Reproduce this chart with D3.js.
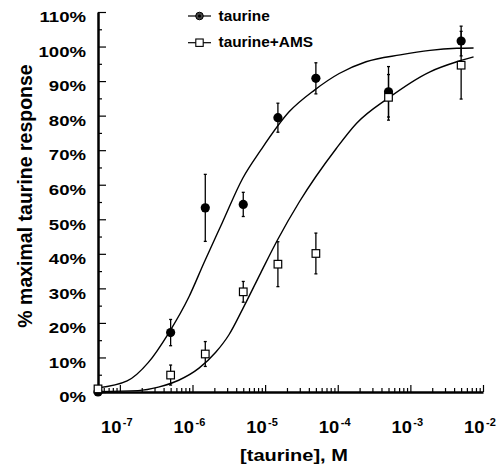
<!DOCTYPE html>
<html><head><meta charset="utf-8">
<script src="https://cdn.jsdelivr.net/npm/d3@7"></script>
<style>
body{margin:0;background:#fff}
text{font-family:"Liberation Sans",Arial,Helvetica,sans-serif;font-weight:bold;fill:#000}
</style>
</head><body><svg id="c" width="503" height="465"></svg>
<script>
// ---- data ----
const conc        = [5e-8, 5e-7, 1.5e-6, 5e-6, 1.5e-5, 5e-5, 5e-4, 5e-3];
const taurine     = [0, 17.2, 53.3, 54.3, 79.4, 90.8, 86.9, 101.6];
const taurineErr  = [0, 3.8, 9.7, 3.5, 4.2, 4.5, 7.3, 4.3];
const ams         = [0.9, 4.9, 11.0, 29.0, 37.0, 40.1, 85.3, 94.6];
const amsErr      = [0, 2.9, 3.6, 3.0, 6.5, 5.9, 6.6, 9.8];

// fitted curves (log10 concentration, % response)
const taurineFitLog = [-7.30,-6.90,-6.61,-6.33,-6.05,-5.84,-5.59,-5.31,-5.06,-4.67,-4.32,-3.98,-3.61,-3.14,-2.73,-2.36,-2.13];
const taurineFit    = [1.2, 3.2, 8.5, 17, 27.5, 37.5, 49, 61.8, 70, 81.1, 87.4, 92.2, 95.6, 97.6, 98.9, 99.5, 99.6];
const amsFitLog     = [-7.30,-6.75,-6.47,-6.19,-5.91,-5.68,-5.50,-5.31,-5.06,-4.83,-4.53,-4.02,-3.74,-3.31,-2.73,-2.36,-2.13];
const amsFit        = [0.1, 0.4, 1.4, 3.4, 6.9, 11.5, 16.5, 24, 34.5, 44, 55, 70.5, 77.8, 85, 92.7, 95.6, 97];

const yTicks     = [0,10,20,30,40,50,60,70,80,90,100,110];
const yMinor     = [5,15,25,35,45,55,65,75,85,95,105];
const xTickExps  = [-7,-6,-5,-4,-3,-2];
const seriesNames = ["taurine", "taurine+AMS"];
const xTitle = "[taurine], M";
const yTitle = "% maximal taurine response";

// ---- drawing ----
const svg = d3.select("#c");
const x = d3.scaleLog().domain([5e-8, 1e-2]).range([98, 483]);
const y = d3.scaleLinear().domain([0, 110]).range([392, 12]);

function stretch(sel, k){
  sel.each(function(){
    const w = this.getComputedTextLength();
    d3.select(this).attr("textLength", w*k).attr("lengthAdjust","spacingAndGlyphs");
  });
}

// minor x ticks
const xMinor = [];
for (let e = -8; e <= -3; e++) for (let k = 2; k <= 9; k++) {
  const v = k * Math.pow(10, e);
  if (v >= 5e-8 && v <= 1e-2) xMinor.push(v);
}
const xMajor = xTickExps.map(e => Math.pow(10, e));

const gx = svg.append("g").attr("transform", "translate(0,392)");
gx.call(d3.axisBottom(x).tickValues(xMinor).tickSizeInner(-4).tickSizeOuter(0).tickFormat(""));
gx.append("g").call(d3.axisBottom(x).tickValues(xMajor).tickSizeInner(-7).tickSizeOuter(0).tickFormat(""))
  .select(".domain").remove();
gx.select(".domain").attr("stroke-width", 2.5);
gx.selectAll(".tick line").attr("stroke-width", 1.2);

const gy = svg.append("g").attr("transform", "translate(98,0)");
gy.call(d3.axisLeft(y).tickValues(yMinor).tickSizeInner(-4).tickSizeOuter(0).tickFormat(""));
gy.append("g").call(d3.axisLeft(y).tickValues(yTicks).tickSizeInner(-8).tickSizeOuter(0).tickFormat(""))
  .select(".domain").remove();
gy.select(".domain").attr("stroke-width", 2.5);
gy.selectAll(".tick line").attr("stroke-width", 1.2);

// y tick labels
const yl = svg.append("g").selectAll("text").data(yTicks).join("text")
  .attr("x", 86).attr("y", d => y(d) + 10.3)
  .attr("text-anchor", "end").attr("font-size", 14.5)
  .text(d => d + "%");
stretch(yl, 1.28);

// x tick labels
const xl = svg.append("g").selectAll("g").data(xTickExps).join("g");
const x10 = xl.append("text").attr("x", d => x(Math.pow(10,d)) + 1.5).attr("y", 433)
  .attr("text-anchor","end").attr("font-size", 17).text("10");
stretch(x10, 1.08);
xl.append("text").attr("x", d => x(Math.pow(10,d)) + 3).attr("y", 426)
  .attr("font-size", 11).text(d => String(d));

// axis titles
const xt = svg.append("text").attr("x", 294).attr("y", 460.5).attr("text-anchor","middle")
  .attr("font-size", 16).text(xTitle);
stretch(xt, 1.25);
svg.append("text").attr("transform", "translate(31.5,196) rotate(-90)")
  .attr("text-anchor","middle").attr("font-size", 19.5).text(yTitle);

// fitted curves
const line = d3.line().x(d => x(Math.pow(10, d[0]))).y(d => y(d[1])).curve(d3.curveMonotoneX);
svg.append("path").datum(taurineFitLog.map((v,i) => [v, taurineFit[i]]))
  .attr("d", line).attr("fill","none").attr("stroke","#000").attr("stroke-width",1.4);
svg.append("path").datum(amsFitLog.map((v,i) => [v, amsFit[i]]))
  .attr("d", line).attr("fill","none").attr("stroke","#000").attr("stroke-width",1.4);

// error bars
function errBars(vals, errs){
  const g = svg.append("g").attr("stroke","#000").attr("stroke-width",1.3);
  vals.forEach((v,i) => {
    if (!errs[i]) return;
    const cx = x(conc[i]), y0 = y(v - errs[i]), y1 = y(v + errs[i]);
    g.append("line").attr("x1",cx).attr("x2",cx).attr("y1",y0).attr("y2",y1);
    g.append("line").attr("x1",cx-1.5).attr("x2",cx+1.5).attr("y1",y0).attr("y2",y0);
    g.append("line").attr("x1",cx-1.5).attr("x2",cx+1.5).attr("y1",y1).attr("y2",y1);
  });
}
errBars(taurine, taurineErr);
errBars(ams, amsErr);

// markers
svg.append("g").selectAll("circle").data(taurine).join("circle")
  .attr("cx", (d,i) => x(conc[i])).attr("cy", d => y(d)).attr("r", 4.6).attr("fill","#000");
svg.append("g").selectAll("rect").data(ams).join("rect")
  .attr("x", (d,i) => x(conc[i]) - 3.8).attr("y", d => y(d) - 3.8)
  .attr("width", 7.6).attr("height", 7.6).attr("fill","#fff").attr("stroke","#000").attr("stroke-width",1.2);

// legend
const lg = svg.append("g");
[16, 42.7].forEach((ly, i) => {
  lg.append("line").attr("x1",188).attr("x2",211).attr("y1",ly).attr("y2",ly).attr("stroke","#000").attr("stroke-width",1.2);
});
lg.append("circle").attr("cx",199.5).attr("cy",16).attr("r",3.8).attr("fill","#444").attr("stroke","#000").attr("stroke-width",1);
lg.append("circle").attr("cx",199.5).attr("cy",16).attr("r",1.6).attr("fill","#000");
lg.append("rect").attr("x",195.8).attr("y",39).attr("width",7.4).attr("height",7.4).attr("fill","#fff").attr("stroke","#000").attr("stroke-width",1.1);
const lt = lg.selectAll("text").data(seriesNames).join("text")
  .attr("x", 218.5).attr("y", (d,i) => i ? 47.3 : 21).attr("font-size", 14).text(d => d);
stretch(lt, 1.1);
</script></body></html>
